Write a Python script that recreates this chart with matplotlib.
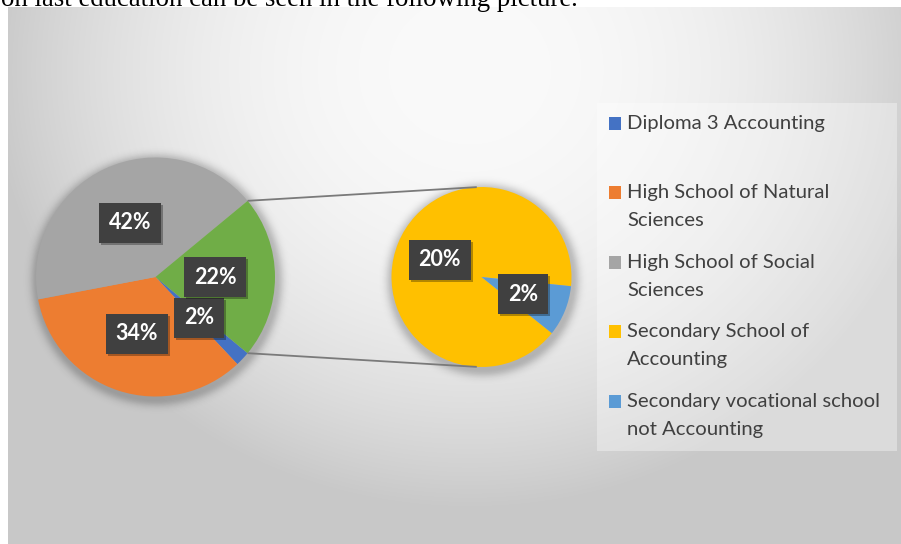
import textwrap
import numpy as np
import matplotlib
matplotlib.use("Agg")
import matplotlib.pyplot as plt
from matplotlib import patheffects
from matplotlib.patches import Rectangle

# ---- data -------------------------------------------------------------
main_labels = ["Diploma 3 Accounting",
               "High School of Natural Sciences",
               "High School of Social Sciences"]
main_values = [2, 34, 42]          # percent
sub_labels = ["Secondary School of Accounting",
              "Secondary vocational school not Accounting"]
sub_values = [20, 2]               # percent, grouped as "other" in the main pie

main_colors = ["#4472C4", "#ED7D31", "#A5A5A5"]
other_color = "#70AD47"
sub_colors = ["#FFC000", "#5B9BD5"]

caption = "on last education can be seen in the following picture."

# ---- canvas (pixel based coordinates, y measured from the top) --------
W, H = 901, 544
fig = plt.figure(figsize=(W / 100, H / 100), dpi=100)
ax = fig.add_axes([0, 0, 1, 1])
ax.set_xlim(0, W)
ax.set_ylim(0, H)
ax.set_aspect("equal")
ax.axis("off")


def Y(py):
    return H - py


# chart area with a soft radial gradient
chart_left, chart_top = 8, 7
px = np.arange(W) + 0.5
py = np.arange(H) + 0.5
PX, PY = np.meshgrid(px, py)
d = np.sqrt(((PX - 470) / 480) ** 2 + ((PY - 70) / 440) ** 2)
val = (250 - 50 * np.clip(d, 0, 1) ** 2.2) / 255.0
bg = np.ones((H, W, 3))
inside = (PX >= chart_left) & (PY >= chart_top)
for c in range(3):
    bg[..., c] = np.where(inside, val, 1.0)
ax.imshow(bg, extent=(0, W, 0, H), origin="upper", zorder=1,
          interpolation="bilinear")

# caption line of the surrounding document (mostly cut off at the top)
cap = ax.text(1, Y(6), caption, fontfamily="Liberation Serif", fontsize=16,
              color="black", ha="left", va="baseline", zorder=1.5)
fig.canvas.draw()
wpx = cap.get_window_extent().width
cap.set_fontsize(16 * (578 - 1) / wpx)

# ---- geometry ---------------------------------------------------------
c1, r1 = (155.5, 277.0), 119.5
c2, r2 = (481.5, 277.0), 90.0
sub_start = -38.6

other_value = sum(sub_values)
pie_values = main_values + [other_value]
total = sum(pie_values)
other_span = other_value / total * 360.0
main_start = -other_span / 2.0


# soft drop shadows behind both pies
def shadow(center, radius, dx=1.5, dy=3.0, sigma=5.0, a0=0.22):
    dist = np.sqrt((PX - center[0] - dx) ** 2 + (PY - center[1] - dy) ** 2)
    out = np.clip(dist - radius, 0, None)
    return a0 * np.exp(-out ** 2 / (2 * sigma ** 2))


alpha = np.maximum(shadow(c1, r1), shadow(c2, r2))
sh = np.zeros((H, W, 4))
sh[..., 3] = alpha
ax.imshow(sh, extent=(0, W, 0, H), origin="upper", zorder=2,
          interpolation="bilinear")

label_style = dict(fontfamily="Lato", fontweight="bold", fontsize=15.5,
                   color="white")


def style_labels(texts):
    for t in texts:
        t.set_ha("center")
        t.set_va("center")
        t.set_zorder(6)
        t.set_bbox(dict(boxstyle="square,pad=0.45", facecolor="#404040",
                        edgecolor="none"))
        t.get_bbox_patch().set_path_effects(
            [patheffects.withSimplePatchShadow(offset=(1.5, -1.5),
                                               shadow_rgbFace="black",
                                               alpha=0.3)])


# main pie
w1, t1 = ax.pie(pie_values, colors=main_colors + [other_color],
                labels=[f"{v}%" for v in pie_values], labeldistance=0.5,
                startangle=main_start, counterclock=False,
                center=(c1[0], Y(c1[1])), radius=r1, frame=True,
                textprops=label_style, wedgeprops=dict(linewidth=0))
# secondary pie
w2, t2 = ax.pie(sub_values, colors=sub_colors,
                labels=[f"{v}%" for v in sub_values], labeldistance=0.5,
                startangle=sub_start, counterclock=False,
                center=(c2[0], Y(c2[1])), radius=r2, frame=True,
                textprops=label_style, wedgeprops=dict(linewidth=0))
for w in w1 + w2:
    w.set_zorder(3)
style_labels(t1)
style_labels(t2)
ax.set_xlim(0, W)
ax.set_ylim(0, H)
ax.axis("off")

# connector lines between the "other" wedge and the secondary pie
a = np.deg2rad(other_span / 2.0)
b = np.deg2rad(93.0)
for s in (1, -1):
    x0 = c1[0] + r1 * np.cos(a)
    y0 = c1[1] - s * r1 * np.sin(a)
    x1 = c2[0] + r2 * np.cos(b)
    y1 = c2[1] - s * r2 * np.sin(b)
    ax.plot([x0, x1], [Y(y0), Y(y1)], color="#7a7a7a", lw=1.3, zorder=4,
            solid_capstyle="butt")

# ---- legend -------------------------------------------------------------
leg_x0, leg_x1, leg_top, leg_bottom = 597, 897, 103, 451
ax.add_patch(Rectangle((leg_x0, Y(leg_bottom)), leg_x1 - leg_x0,
                       leg_bottom - leg_top, facecolor="white", alpha=0.35,
                       edgecolor="none", zorder=2))
entries = list(zip(main_labels + sub_labels, main_colors + sub_colors))
slot = (leg_bottom - leg_top) / len(entries)
line_h = 28
for i, (name, col) in enumerate(entries):
    first = leg_top + 20 + i * slot
    ax.add_patch(Rectangle((609, Y(first + 6.5)), 12, 13, facecolor=col,
                           edgecolor="none", zorder=5))
    for j, line in enumerate(textwrap.wrap(name, width=27)):
        ax.text(627, Y(first + j * line_h), line, fontfamily="Lato",
                fontsize=14.6, color="#404040", ha="left", va="center",
                zorder=5)

fig.savefig("out.png", dpi=100)
